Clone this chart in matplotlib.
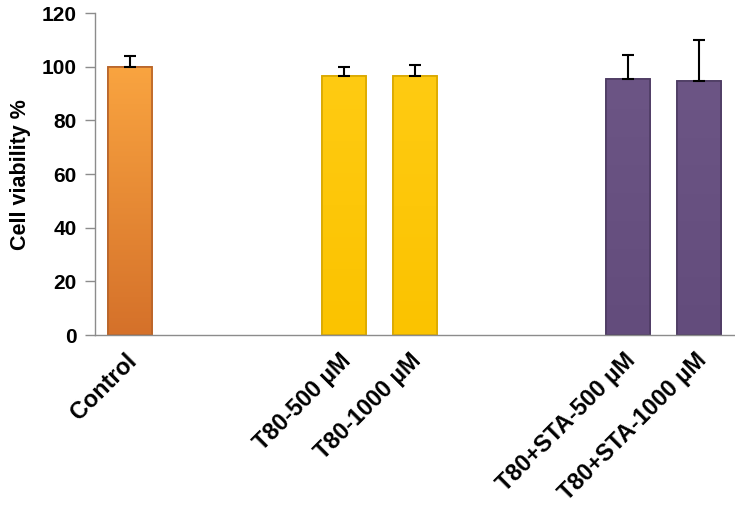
import numpy as np
import matplotlib.pyplot as plt
import matplotlib.transforms as mtransforms
from matplotlib.colors import LinearSegmentedColormap

plt.rcParams['font.family'] = ['Liberation Sans', 'DejaVu Sans']

labels = ['Control', 'T80-500 µM', 'T80-1000 µM', 'T80+STA-500 µM', 'T80+STA-1000 µM']
slots = [0, 3, 4, 7, 8]
values = [100, 96.6, 96.5, 95.4, 94.7]
errors = [4, 3.4, 4.2, 9.0, 15.3]
top_colors = ['#F9A440', '#FFCB12', '#6C5585']
bottom_colors = ['#D5712A', '#FBC300', '#634C7C']
edge_colors = ['#B8642A', '#D9A800', '#4E3C63']
group = [0, 1, 1, 2, 2]

fig = plt.figure(figsize=(7.35, 5.07), dpi=100)
ax = fig.add_axes([0.129, 0.339, 0.871, 0.635])

bars = ax.bar(slots, values, width=0.62, color=[bottom_colors[g] for g in group],
              edgecolor=[edge_colors[g] for g in group], linewidth=1.2, zorder=2)

for b, g in zip(bars, group):
    cmap = LinearSegmentedColormap.from_list('g', [bottom_colors[g], top_colors[g]])
    x0, y0 = b.get_x(), b.get_y()
    im = ax.imshow(np.linspace(0, 1, 100).reshape(-1, 1), cmap=cmap, origin='lower',
                   extent=[x0, x0 + b.get_width(), y0, y0 + b.get_height()],
                   aspect='auto', zorder=2.1)
    im.set_clip_path(b)
    ax.add_patch(plt.Rectangle((x0, y0), b.get_width(), b.get_height(), fill=False,
                               edgecolor=edge_colors[g], linewidth=1.2, zorder=2.2))

ax.errorbar(slots, values, yerr=[np.zeros(len(errors)), errors], fmt='none',
            ecolor='black', elinewidth=1.5, capsize=4.5, capthick=1.5, zorder=3)

ax.set_xlim(-0.5, 8.5)
ax.set_ylim(0, 120)
ax.set_yticks(range(0, 121, 20))
ax.set_xticks(slots)
ax.set_xticklabels(labels, rotation=45, ha='right', rotation_mode='anchor',
                   fontsize=16.8, fontweight='bold')
ax.tick_params(axis='x', length=0, pad=10)
ax.tick_params(axis='y', length=7, width=1, color='#8c8c8c', labelsize=15, pad=6)
for lab in ax.get_yticklabels():
    lab.set_fontweight('bold')

shift = mtransforms.ScaledTranslation(-5 / 100, 0, fig.dpi_scale_trans)
for lab in ax.get_xticklabels():
    lab.set_transform(lab.get_transform() + shift)

for s in ['top', 'right']:
    ax.spines[s].set_visible(False)
for s in ['left', 'bottom']:
    ax.spines[s].set_color('#8c8c8c')
    ax.spines[s].set_linewidth(1)

ax.set_ylabel('Cell viability %', fontsize=15.5, fontweight='bold', labelpad=8)

fig.savefig('out.png', dpi=100)
